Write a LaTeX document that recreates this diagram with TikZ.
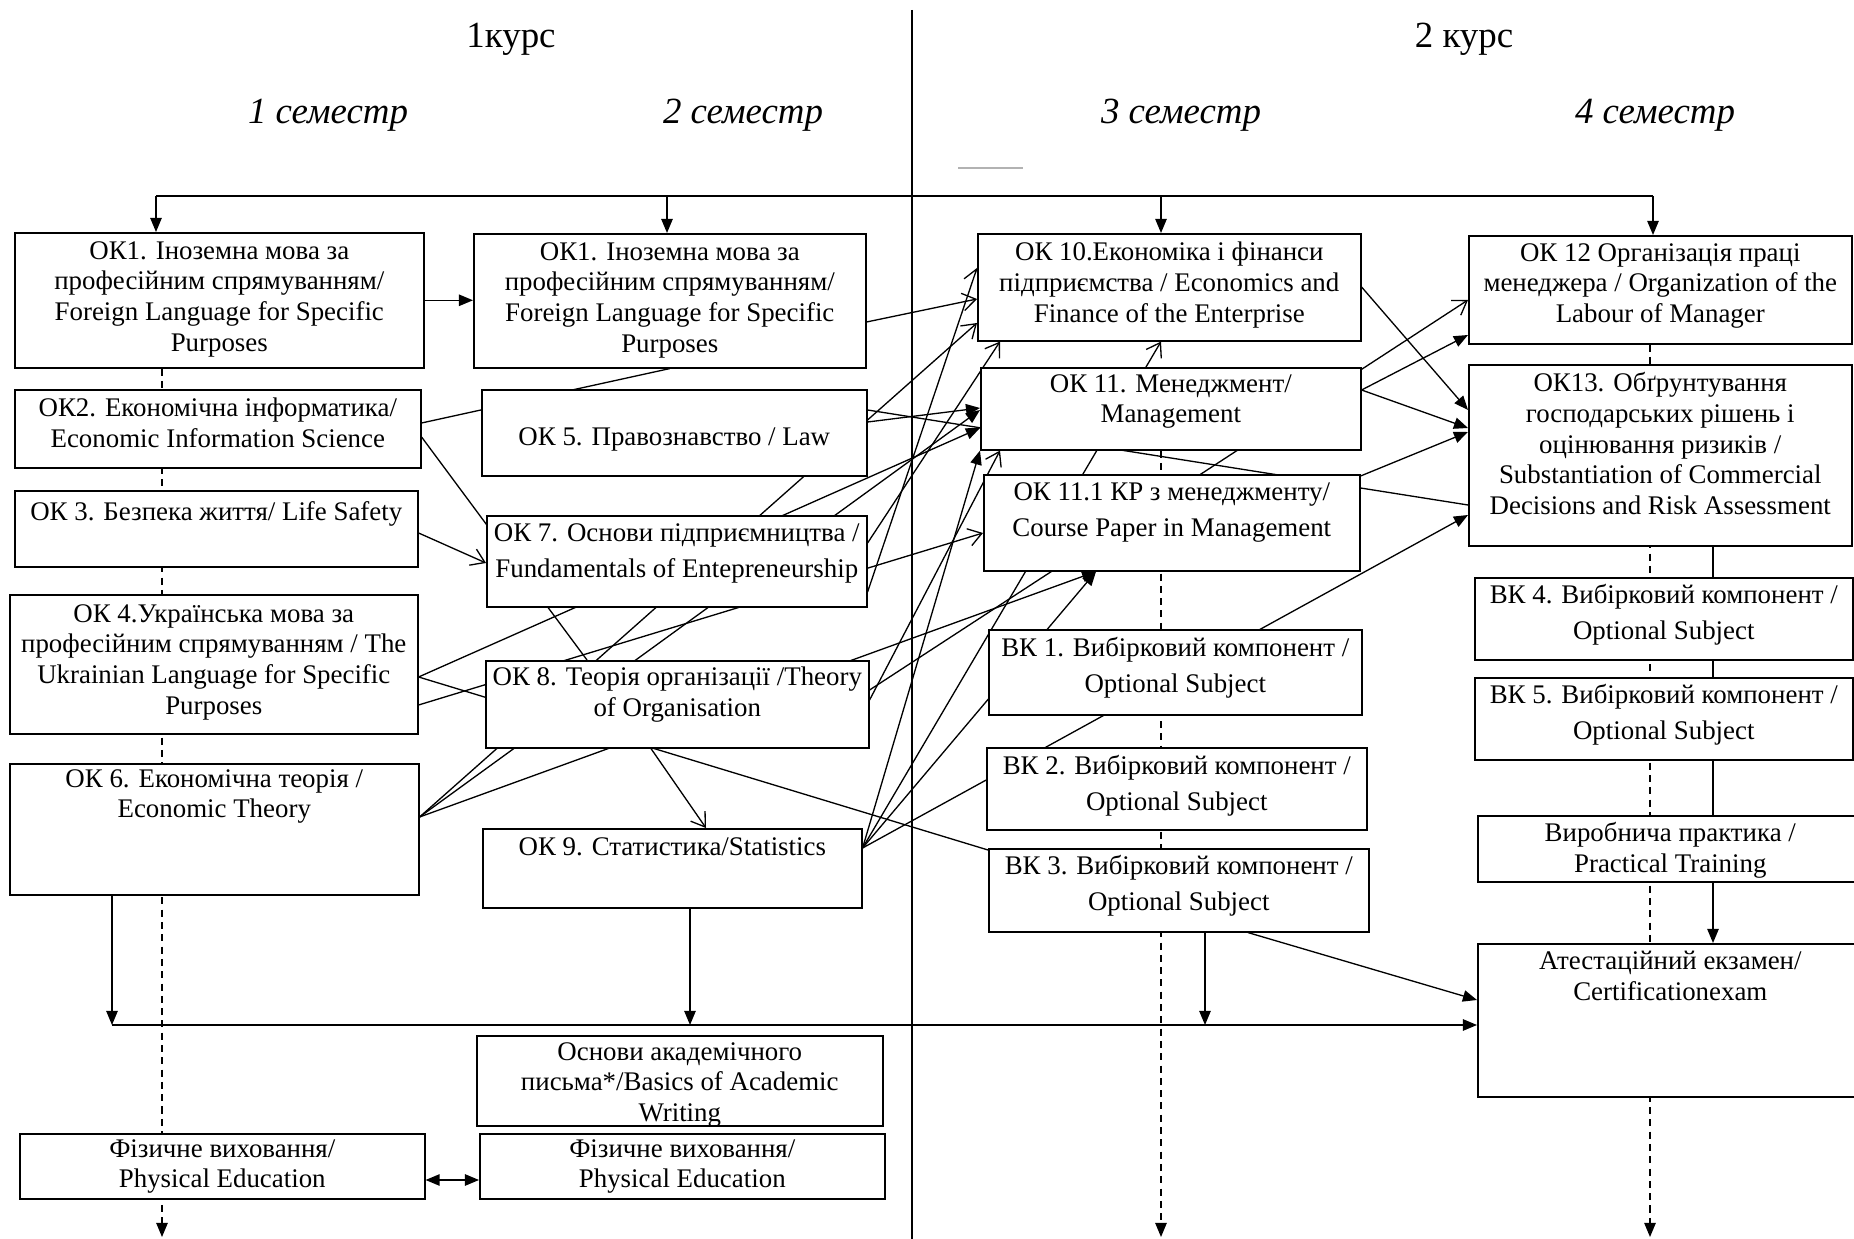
\documentclass[tikz,border=0pt]{standalone}
\usepackage{fontspec}
\setmainfont{Liberation Serif}
\usetikzlibrary{arrows.meta,calc}
\pgfdeclarelayer{bg}
\pgfsetlayers{bg,main}
\tikzset{
 box/.style={draw, line width=0.9pt, fill=white, inner sep=0pt, anchor=north west},
 txt/.style={anchor=north, align=center, inner sep=0pt, font=\fontsize{15.3}{17.5}\selectfont},
 txtw/.style={txt, font=\fontsize{15.3}{20.5}\selectfont},
 hdr/.style={inner sep=0pt, font=\fontsize{21}{25}\selectfont},
 sem/.style={inner sep=0pt, font=\itshape\fontsize{21}{25}\selectfont},
 ln/.style={line width=0.75pt},
 dl/.style={ln, dash pattern=on 4pt off 3pt},
 fa/.style={-{Triangle[length=8pt,width=6.5pt]}},
 oa/.style={-{Straight Barb[length=7.5pt,width=10pt]}},
}
\newcommand{\mybox}[8][txt]{%
 \node[box, minimum width={(#5-#3)*0.02cm}, minimum height={(#6-#4)*0.02cm}] (#2) at (#3,#4) {};
 \node[#1] at ($(#2.north)+(0,#7)$) {#8};}
\begin{document}
\begin{tikzpicture}[x=0.02cm,y=-0.02cm]
\useasboundingbox (0,0) rectangle (1854,1239);
\clip (0,0) rectangle (1854,1239);
\begin{pgfonlayer}{bg}
\fill[white] (0,0) rectangle (1854,1239);
\end{pgfonlayer}

% headers
\node[hdr] (k1) at (511,39) {1курс};
\node[hdr] (k2) at (1464,39) {2 курс};
\node[sem] (s1) at (328,115) {1 семестр};
\node[sem] (s2) at (743,115) {2 семестр};
\node[sem] (s3) at (1181,115) {3 семестр};
\node[sem] (s4) at (1655,115) {4 семестр};
\draw[gray!60, line width=1pt] (958,168) -- (1023,168);
\draw[ln] (912,10) -- (912,1239);

% column 1
\mybox{ok1a}{14}{232}{423}{367}{9}{ОК1. Іноземна мова за\\професійним спрямуванням/\\Foreign Language for Specific\\Purposes}
\mybox{ok2}{14}{389}{420}{467}{9}{ОК2. Економічна інформатика/\\Economic Information Science}
\mybox{ok3}{14}{490}{417}{566}{11}{ОК 3. Безпека життя/ Life Safety}
\mybox{ok4}{9}{594}{417}{733}{10}{ОК 4.Українська мова за\\професійним спрямуванням / The\\Ukrainian Language for Specific\\Purposes}
\mybox{ok6}{9}{763}{418}{894}{6}{ОК 6. Економічна теорія /\\Economic Theory}
\mybox{fv1}{19}{1133}{424}{1198}{6}{Фізичне виховання/\\Physical Education}

% column 2
\mybox{ok1b}{473}{233}{865}{367}{9}{ОК1. Іноземна мова за\\професійним спрямуванням/\\Foreign Language for Specific\\Purposes}
\mybox{ok5}{481}{389}{866}{475}{38}{ОК 5. Правознавство / Law}
\mybox[txtw]{ok7}{486}{515}{866}{606}{8}{ОК 7. Основи підприємництва /\\Fundamentals of Entepreneurship}
\mybox{ok8}{485}{660}{868}{747}{7}{ОК 8. Теорія організації /Theory\\of Organisation}
\mybox{ok9}{482}{828}{861}{907}{9}{ОК 9. Статистика/Statistics}
\mybox{oap}{476}{1035}{882}{1125}{7}{Основи академічного\\письма*/Basics of Academic\\Writing}
\mybox{fv2}{479}{1133}{884}{1198}{6}{Фізичне виховання/\\Physical Education}

% column 3
\mybox{ok10}{977}{233}{1360}{340}{9}{ОК 10.Економіка і фінанси\\підприємства / Economics and\\Finance of the Enterprise}
\mybox{ok11}{980}{367}{1360}{449}{7}{ОК 11. Менеджмент/\\Management}
\mybox[txtw]{ok111}{983}{474}{1359}{570}{8}{ОК 11.1 КР з менеджменту/\\Course Paper in Management}
\mybox[txtw]{bk1}{988}{629}{1361}{714}{8}{ВК 1. Вибірковий компонент /\\Optional Subject}
\mybox[txtw]{bk2}{986}{747}{1366}{829}{8}{ВК 2. Вибірковий компонент /\\Optional Subject}
\mybox[txtw]{bk3}{988}{848}{1368}{931}{7}{ВК 3. Вибірковий компонент /\\Optional Subject}

% column 4
\mybox{ok12}{1468}{235}{1851}{343}{8}{ОК 12 Організація праці\\менеджера / Organization of the\\Labour of Manager}
\mybox{ok13}{1468}{364}{1851}{545}{8}{ОК13. Обґрунтування\\господарських рішень і\\оцінювання ризиків /\\Substantiation of Commercial\\Decisions and Risk Assessment}
\mybox[txtw]{bk4}{1474}{577}{1852}{659}{7}{ВК 4. Вибірковий компонент /\\Optional Subject}
\mybox[txtw]{bk5}{1474}{677}{1852}{759}{7}{ВК 5. Вибірковий компонент /\\Optional Subject}
\mybox{vp}{1477}{815}{1862}{881}{7}{Виробнича практика /\\Practical Training}
\mybox{atest}{1477}{943}{1862}{1096}{8}{Атестаційний екзамен/\\Certificationexam}

\begin{pgfonlayer}{bg}
% top distribution line
\coordinate (tl) at (156,196); \coordinate (tr) at (1653,196);
\coordinate (t2) at (667,196); \coordinate (t3) at (1161,196);
\draw[ln] (tl) -- (tr);
\draw[ln,fa] (tl) -- (tl |- ok1a.north);
\draw[ln,fa] (t2) -- (t2 |- ok1b.north);
\draw[ln,fa] (t3) -- (t3 |- ok10.north);
\draw[ln,fa] (tr) -- (tr |- ok12.north);
\draw[ln,fa] (ok1a.east) -- (ok1a.east -| ok1b.west);

% dashed semester threads
\coordinate (d1) at (162,1237); \coordinate (d3) at (1161,1237); \coordinate (d4) at (1650,1237);
\draw[dl,fa] (d1 |- ok1a.south) -- (d1);
\draw[dl,fa] (d3 |- ok11.south) -- (d3);
\draw[dl,fa] (d4 |- ok12.south) -- (d4);

% bottom collector line
\coordinate (h0) at (112,1025); \coordinate (h9) at (690,1025); \coordinate (hb) at (1205,1025);
\draw[ln,fa] (h0 |- ok6.south) -- (h0);
\draw[ln,fa] (h0) -- (h0 -| atest.west);
\draw[ln,fa] (h9 |- ok9.south) -- (h9);
\draw[ln,fa] (hb |- bk3.south) -- (hb);
\draw[ln,fa] (bk3.south -| 1248,0) -- (atest.west |- 0,1000);
\draw[ln] (ok13.south -| 1713,0) -- (vp.north -| 1713,0);
\draw[ln,fa] (vp.south -| 1713,0) -- (atest.north -| 1713,0);
\draw[ln,{Triangle[length=8pt,width=6.5pt]}-{Triangle[length=8pt,width=6.5pt]}] (fv1.east |- 0,1180) -- (fv2.west |- 0,1180);

% tangle: semester 1 -> 2/3
\draw[ln,oa] (ok1b.east |- 0,322) -- (ok10.west |- 0,299);
\draw[ln] (ok2.east |- 0,423) -- (ok1b.south);
\draw[ln] (ok2.east |- 0,437) -- (ok8.north -| 587,0);
\draw[ln,oa] (ok3.east |- 0,533) -- (ok7.west |- 0,563);
\draw[ln,fa] (ok4.east |- 0,677) -- (ok11.west |- 0,428);
\draw[ln,oa] (ok4.east |- 0,705) -- (ok111.west |- 0,533);
\draw[ln] (ok4.east |- 0,677) -- (bk3.west |- 0,850);
\draw[ln,oa] (ok6.east |- 0,817) -- (ok10.west |- 0,323);
\draw[ln,fa] (ok6.east |- 0,817) -- (ok11.west |- 0,410);
\draw[ln,fa] (ok6.east |- 0,817) -- (ok111.south -| 1096,0);
% semester 2 -> 3/4
\draw[ln,fa] (ok5.east |- 0,422) -- (ok11.west |- 0,408);
\draw[ln] (ok5.east |- 0,410) -- (ok13.west |- 0,505);
\draw[ln,oa] (ok7.east |- 0,592) -- (ok10.west |- 0,268);
\draw[ln,oa] (ok7.east |- 0,543) -- (ok10.south -| 1000,0);
\draw[ln,oa] (ok8.east |- 0,690) -- (ok12.west |- 0,300);
\draw[ln,oa] (ok8.east |- 0,700) -- (ok11.south -| 1000,0);
\draw[ln,oa] (ok8.south -| 651,0) -- (ok9.north -| 706,0);
\draw[ln,fa] (ok9.east |- 0,848) -- (ok111.south -| 1096,0);
\draw[ln,fa] (ok9.east |- 0,848) -- (ok13.west |- 0,515);
\draw[ln,oa] (ok9.east |- 0,848) -- (ok10.south -| 1161,0);
\draw[ln,fa] (ok9.east |- 0,848) -- (ok11.south west);
% semester 3 -> 4
\draw[ln,fa] (ok10.east |- 0,287) -- (ok13.west |- 0,410);
\draw[ln,fa] (ok11.east |- 0,390) -- (ok12.west |- 0,335);
\draw[ln,fa] (ok11.east |- 0,390) -- (ok13.west |- 0,428);
\draw[ln,fa] (ok111.east |- 0,476) -- (ok13.west |- 0,432);
\end{pgfonlayer}
\end{tikzpicture}
\end{document}
